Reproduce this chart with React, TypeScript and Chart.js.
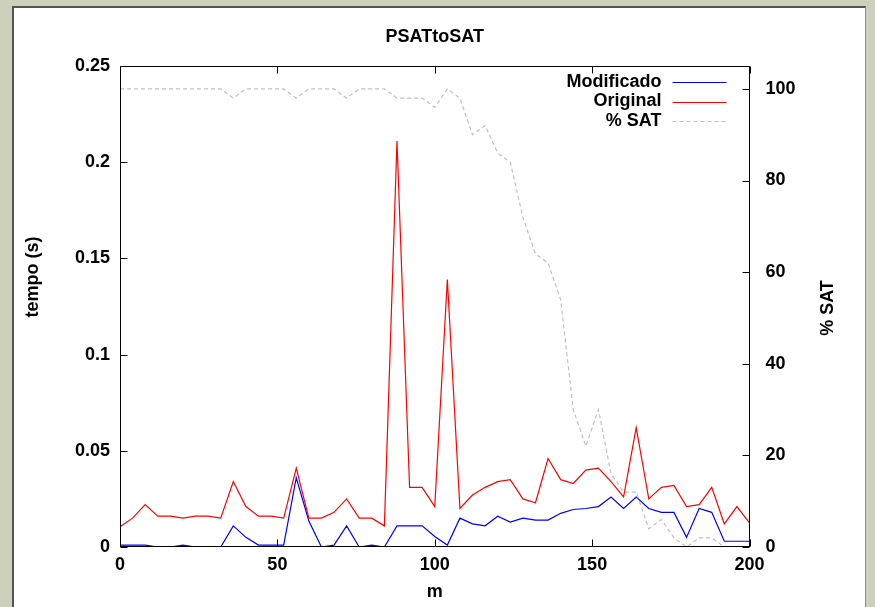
import React, { useEffect, useRef } from "react";
import { Chart, registerables } from "chart.js";

Chart.register(...registerables);

const chartTitle = "PSATtoSAT";
const xAxisTitle = "m";
const yAxisTitle = "tempo (s)";
const y2AxisTitle = "% SAT";
const seriesNames = ["Modificado", "Original", "% SAT"];

const mValues = [
  0, 4, 8, 12, 16, 20, 24, 28, 32, 36, 40, 44, 48, 52, 56, 60, 64, 68, 72, 76,
  80, 84, 88, 92, 96, 100, 104, 108, 112, 116, 120, 124, 128, 132, 136, 140,
  144, 148, 152, 156, 160, 164, 168, 172, 176, 180, 184, 188, 192, 196, 200,
];

const modificado = [
  0.001, 0.001, 0.001, 0, 0, 0.001, 0, 0, 0, 0.011, 0.005, 0.001, 0.001, 0.001,
  0.036, 0.0135, 0, 0.001, 0.011, 0, 0.001, 0, 0.011, 0.011, 0.011, 0.0055,
  0.001, 0.015, 0.012, 0.011, 0.016, 0.013, 0.015, 0.014, 0.014, 0.0175, 0.0195,
  0.02, 0.021, 0.026, 0.02, 0.026, 0.02, 0.018, 0.018, 0.005, 0.02, 0.018,
  0.003, 0.003, 0.003,
];

const original = [
  0.0105, 0.015, 0.022, 0.016, 0.016, 0.015, 0.016, 0.016, 0.015, 0.034, 0.021,
  0.016, 0.016, 0.015, 0.041, 0.015, 0.015, 0.018, 0.025, 0.015, 0.015, 0.011,
  0.211, 0.031, 0.031, 0.021, 0.139, 0.02, 0.027, 0.031, 0.034, 0.035, 0.025,
  0.023, 0.046, 0.035, 0.033, 0.04, 0.041, 0.034, 0.026, 0.062, 0.025, 0.031,
  0.032, 0.021, 0.022, 0.031, 0.012, 0.021, 0.0125,
];

const satPercent = [
  100, 100, 100, 100, 100, 100, 100, 100, 100, 98, 100, 100, 100, 100, 98, 100,
  100, 100, 98, 100, 100, 100, 98, 98, 98, 96, 100, 98, 90, 92, 86, 84, 72, 64,
  62, 54, 30, 22, 30, 16, 12, 12, 4, 6, 2, 0, 2, 2, 0, 0, 0,
];

const yTickMax = 0.25;
const yTickStep = 0.05;
const y2Max = 105;
const y2TickStep = 20;
const xMax = 200;
const xTickStep = 50;

const FONT_FAMILY = "'Liberation Sans', Arial, sans-serif";
const FONT = `bold 18px ${FONT_FAMILY}`;
const colors = ["#0000ff", "#ff0000", "#c0c0c0"];

export default function App() {
  const canvasRef = useRef<HTMLCanvasElement | null>(null);

  useEffect(() => {
    document.body.style.margin = "0";
    const canvas = canvasRef.current;
    if (!canvas) return;

    const toPts = (arr: number[]) => arr.map((v, i) => ({ x: mValues[i], y: v }));

    const decor = {
      id: "decor",
      afterDatasetsDraw(chart: any) {
        const { ctx, chartArea: a, scales } = chart;
        const xs = scales.x;
        const ys = scales.y;
        const y2s = scales.y2;
        ctx.save();
        ctx.strokeStyle = "#000";
        ctx.lineWidth = 1;
        const L = Math.round(a.left) + 0.5;
        const R = Math.round(a.right) - 0.5;
        const T = Math.round(a.top) + 0.5;
        const B = Math.round(a.bottom) - 0.5;
        ctx.strokeRect(L, T, R - L, B - T);
        const tl = 7;
        ctx.beginPath();
        xs.ticks.forEach((t: any) => {
          const px = Math.round(xs.getPixelForValue(t.value)) + 0.5;
          ctx.moveTo(px, B);
          ctx.lineTo(px, B - tl);
          ctx.moveTo(px, T);
          ctx.lineTo(px, T + tl);
        });
        ys.ticks.forEach((t: any) => {
          const py = Math.round(ys.getPixelForValue(t.value)) + 0.5;
          ctx.moveTo(L, py);
          ctx.lineTo(L + tl, py);
        });
        y2s.ticks.forEach((t: any) => {
          const py = Math.round(y2s.getPixelForValue(t.value)) + 0.5;
          ctx.moveTo(R, py);
          ctx.lineTo(R - tl, py);
        });
        ctx.stroke();

        ctx.fillStyle = "#000";
        ctx.font = FONT;
        ctx.textBaseline = "middle";
        ctx.textAlign = "center";
        const cx = (a.left + a.right) / 2;
        ctx.fillText(chartTitle, cx, a.top - 29);
        ctx.fillText(xAxisTitle, cx, a.bottom + 45);

        ctx.save();
        ctx.translate(33, 277);
        ctx.rotate(-Math.PI / 2);
        ctx.fillText(yAxisTitle, 0, 0);
        ctx.restore();

        ctx.save();
        ctx.translate(828, 308);
        ctx.rotate(-Math.PI / 2);
        ctx.fillText(y2AxisTitle, 0, 0);
        ctx.restore();

        // legend
        const textRight = a.right - 88;
        const lx0 = a.right - 77;
        const lx1 = a.right - 23;
        const rows = [a.top + 16, a.top + 35.5, a.top + 55];
        ctx.textAlign = "right";
        seriesNames.forEach((name, i) => {
          ctx.fillStyle = "#000";
          ctx.fillText(name, textRight, rows[i]);
          ctx.beginPath();
          ctx.strokeStyle = colors[i];
          ctx.lineWidth = 1.2;
          ctx.setLineDash(i === 2 ? [4, 3] : []);
          const yy = Math.round(rows[i]) + 0.5;
          ctx.moveTo(lx0, yy);
          ctx.lineTo(lx1, yy);
          ctx.stroke();
        });
        ctx.restore();
      },
    };

    const tickFont = { family: FONT_FAMILY, size: 18, weight: "bold" as const };

    const chart = new Chart(canvas, {
      type: "line",
      data: {
        datasets: [
          {
            label: seriesNames[0],
            data: toPts(modificado),
            borderColor: colors[0],
            borderWidth: 1.2,
            pointRadius: 0,
            tension: 0,
            yAxisID: "y",
            order: 3,
          },
          {
            label: seriesNames[1],
            data: toPts(original),
            borderColor: colors[1],
            borderWidth: 1.2,
            pointRadius: 0,
            tension: 0,
            yAxisID: "y",
            order: 2,
          },
          {
            label: seriesNames[2],
            data: toPts(satPercent),
            borderColor: colors[2],
            borderWidth: 1.2,
            borderDash: [4, 3],
            pointRadius: 0,
            tension: 0,
            yAxisID: "y2",
            order: 1,
          },
        ],
      },
      options: {
        animation: false,
        responsive: false,
        maintainAspectRatio: false,
        layout: { padding: { top: 66, left: 0, right: 0, bottom: 0 } },
        plugins: {
          legend: { display: false },
          title: { display: false },
          tooltip: { enabled: false },
        },
        scales: {
          x: {
            type: "linear",
            min: 0,
            max: xMax,
            grid: { display: false, drawTicks: false },
            border: { display: false },
            ticks: { stepSize: xTickStep, font: tickFont, color: "#000", padding: 7, maxRotation: 0 },
            afterFit(s: any) {
              s.height = 60;
            },
          },
          y: {
            type: "linear",
            position: "left",
            min: 0,
            max: yTickMax,
            grid: { display: false, drawTicks: false },
            border: { display: false },
            ticks: {
              stepSize: yTickStep,
              font: tickFont,
              color: "#000",
              padding: 10,
              callback: (v: any) => String(Number(Number(v).toFixed(2))),
            },
            afterFit(s: any) {
              s.width = 120;
            },
          },
          y2: {
            type: "linear",
            position: "right",
            min: 0,
            max: y2Max,
            grid: { display: false, drawTicks: false },
            border: { display: false },
            ticks: { stepSize: y2TickStep, font: tickFont, color: "#000", padding: 16 },
            afterBuildTicks(s: any) {
              s.ticks = s.ticks.filter((t: any) => t.value <= 100);
            },
            afterFit(s: any) {
              s.width = 125.5;
            },
          },
        },
      },
      plugins: [decor],
    });

    return () => chart.destroy();
  }, []);

  return (
    <div
      style={{
        position: "fixed",
        left: 0,
        top: 0,
        width: 875,
        height: 607,
        background: "#cdd0bb",
        overflow: "hidden",
      }}
    >
      <div
        style={{
          position: "absolute",
          left: 12,
          top: 6,
          width: 851,
          height: 650,
          background: "#ffffff",
          borderLeft: "2px solid #57534e",
          borderTop: "2px solid #57534e",
          borderRight: "1px solid #8c8c8c",
        }}
      />
      <canvas
        ref={canvasRef}
        width={875}
        height={607}
        style={{ position: "absolute", left: 0, top: 0, width: 875, height: 607 }}
      />
    </div>
  );
}
